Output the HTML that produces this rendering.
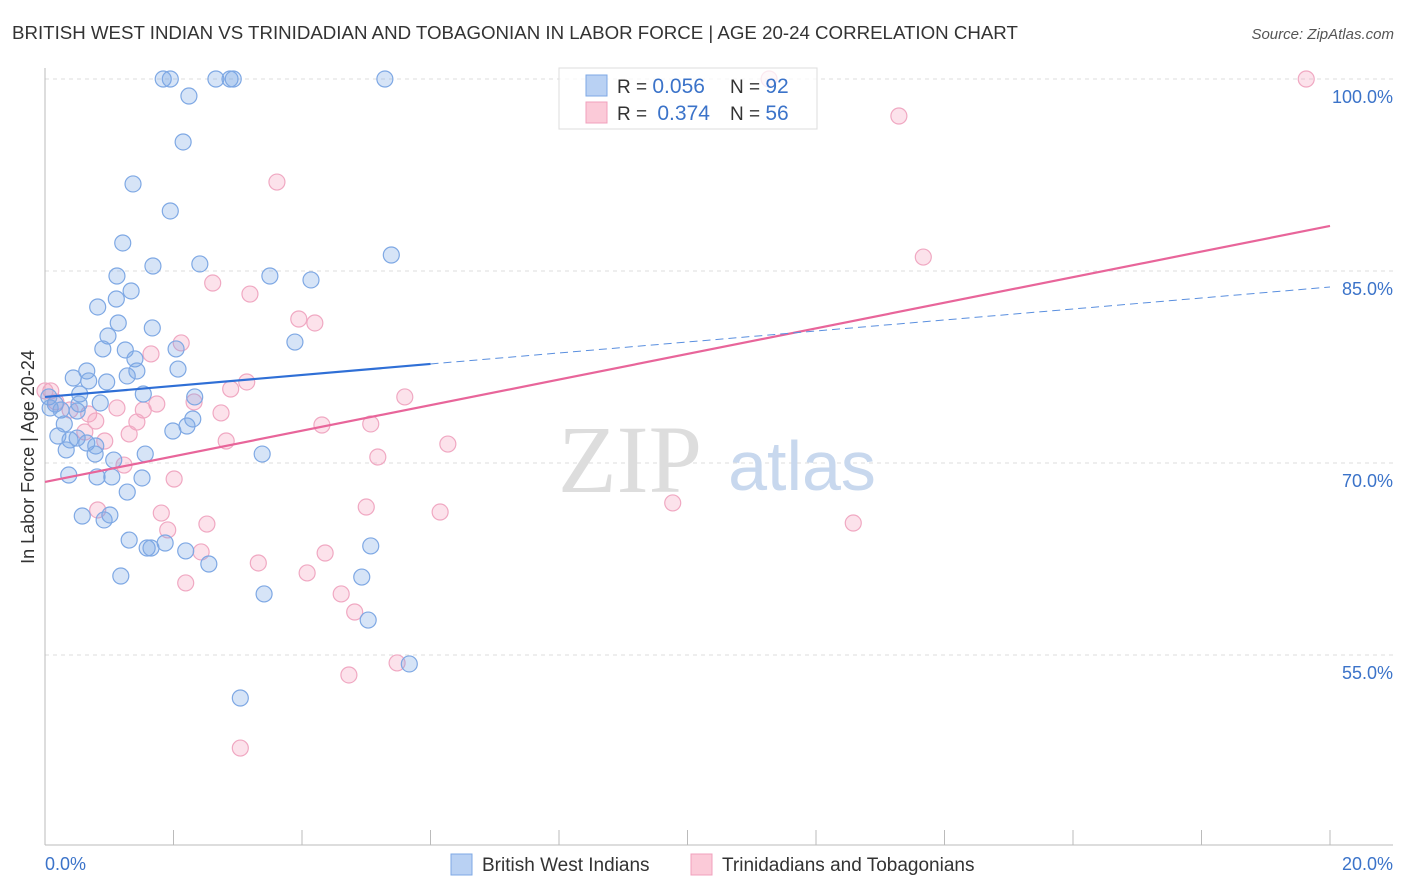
<!DOCTYPE html>
<html><head><meta charset="utf-8"><style>
body{margin:0;background:#fff;font-family:"Liberation Sans",sans-serif;}
svg{display:block}
</style></head><body>
<svg id="chart" width="1406" height="892">
<text x="12" y="39" font-size="18.7" fill="#333">BRITISH WEST INDIAN VS TRINIDADIAN AND TOBAGONIAN IN LABOR FORCE | AGE 20-24 CORRELATION CHART</text>
<text x="1394" y="39" font-size="15" fill="#555" font-style="italic" text-anchor="end">Source: ZipAtlas.com</text>
<g id="grid"></g>
<text x="630" y="492" font-size="96" fill="#ddd" font-family="Liberation Serif,serif" text-anchor="middle">ZIP</text>
<text x="802" y="490" font-size="70" fill="#c8d8ee" text-anchor="middle">atlas</text>
<g id="pts"></g>
<g id="lines"></g>
<text transform="translate(34,457) rotate(-90)" font-size="18" fill="#333" text-anchor="middle">In Labor Force | Age 20-24</text>
<text x="45" y="870" font-size="18" fill="#3b73c9">0.0%</text>
<text x="1393" y="870" font-size="18" fill="#3b73c9" text-anchor="end">20.0%</text>
<g>
<rect x="559" y="68" width="258" height="61" fill="#fff" fill-opacity="0.75" stroke="#ddd"/>
<rect x="586" y="75" width="21" height="21" fill="#b9d1f3" stroke="#7ea8e4"/>
<rect x="586" y="102" width="21" height="21" fill="#fbcad8" stroke="#f0a0bc"/>
<text x="617" y="93" font-size="19" fill="#333">R = <tspan fill="#3b73c9" font-size="21">0.056</tspan></text>
<text x="730" y="93" font-size="19" fill="#333">N = <tspan fill="#3b73c9" font-size="21">92</tspan></text>
<text x="617" y="120" font-size="19" fill="#333">R = <tspan fill="#3b73c9" font-size="21" dx="5">0.374</tspan></text>
<text x="730" y="120" font-size="19" fill="#333">N = <tspan fill="#3b73c9" font-size="21">56</tspan></text>
</g>
<g>
<rect x="451" y="854" width="21" height="21" fill="#b9d1f3" stroke="#7ea8e4"/>
<text x="482" y="871" font-size="19" fill="#333">British West Indians</text>
<rect x="691" y="854" width="21" height="21" fill="#fbcad8" stroke="#f0a0bc"/>
<text x="722" y="871" font-size="19" fill="#333">Trinidadians and Tobagonians</text>
</g>
</svg>
<script>
const yTicks=[100,85,70,55];
const yTickLabels=["100.0%","85.0%","70.0%","55.0%"];
const xTicks=[0,2,4,6,8,10,12,14,16,18,20];
const blueX=[1.84,1.95,2.66,2.88,2.93,5.29,2.24,2.15,1.37,1.95,1.21,1.68,2.41,1.12,3.50,4.14,1.34,1.11,0.82,1.14,1.67,3.89,0.98,0.90,2.04,1.25,1.40,1.43,1.28,2.07,0.44,0.65,0.68,0.96,1.53,0.54,2.33,0.86,0.06,0.16,0.08,0.53,0.25,0.30,2.30,1.99,2.21,0.20,0.39,0.50,0.65,0.79,0.33,0.78,1.07,1.56,3.38,0.37,0.81,1.04,1.51,1.28,0.58,1.01,0.92,1.31,1.87,1.59,1.65,2.19,2.55,5.07,1.18,4.93,3.41,5.03,5.67,3.04,5.39,0.50];
const blueY=[100,100,100,100,100,100,98.67,95.08,91.8,89.69,87.19,85.39,85.55,84.61,84.61,84.30,83.44,82.81,82.19,80.94,80.55,79.45,79.92,78.91,78.91,78.83,78.13,77.19,76.80,77.34,76.64,77.19,76.41,76.33,75.39,75.39,75.16,74.69,75.16,74.61,74.30,74.61,74.14,73.05,73.44,72.50,72.89,72.11,71.80,71.95,71.56,71.33,71.02,70.70,70.23,70.70,70.70,69.06,68.91,68.91,68.83,67.73,65.86,65.94,65.55,63.98,63.75,63.36,63.36,63.13,62.11,63.52,61.17,61.09,59.77,57.73,54.30,51.64,86.25,74.06];
const pinkX=[19.63,11.27,13.29,3.61,13.67,2.61,3.19,3.95,4.20,2.12,1.65,3.14,2.89,5.60,2.32,1.74,1.12,1.53,0.09,0.17,0.39,0.68,0.79,2.74,1.43,4.31,5.07,0.62,1.31,0.93,6.27,2.82,5.18,1.23,2.01,5.00,6.15,9.77,12.58,1.81,1.91,0.82,2.52,2.43,4.36,3.32,4.08,2.19,4.61,4.82,5.48,4.73,3.04,0.00];
const pinkY=[100,100,97.11,91.95,86.09,84.06,83.20,81.25,80.94,79.38,78.52,76.33,75.78,75.16,74.77,74.61,74.30,74.14,75.63,74.77,74.14,73.83,73.28,73.91,73.20,72.97,73.05,72.42,72.27,71.72,71.48,71.72,70.47,69.84,68.75,66.56,66.17,66.88,65.31,66.09,64.77,66.33,65.23,63.05,62.97,62.19,61.41,60.63,59.77,58.36,54.38,53.44,47.73,75.63];
const blueTrend=[75.16,83.75];
const pinkTrend=[68.52,88.52];
const blueSolidEnd=6.0;
const NS="http://www.w3.org/2000/svg";
const X=v=>45+v*64.25;
const Y=v=>79+(100-v)*12.8;
function mk(tag,attrs,parent){const e=document.createElementNS(NS,tag);for(const k in attrs)e.setAttribute(k,attrs[k]);parent.appendChild(e);return e;}
const grid=document.getElementById('grid');
yTicks.forEach((t,i)=>{
 const l=mk('line',{x1:45,x2:1393,y1:Y(t),y2:Y(t),stroke:'#ddd','stroke-dasharray':'4,4'},grid);
 
 
 const tx=mk('text',{x:1393,y:Y(t)+24,'font-size':18,fill:'#3b73c9','text-anchor':'end'},grid);
 tx.textContent=yTickLabels[i];
 
 
});
const ax=mk('line',{x1:45,x2:45,y1:68,y2:845,stroke:'#bbb'},grid);


const bx=mk('line',{x1:45,x2:1393,y1:845,y2:845,stroke:'#bbb'},grid);


xTicks.forEach(t=>{
 const l=mk('line',{x1:X(t),x2:X(t),y1:830,y2:845,stroke:'#bbb'},grid);
 
 
});
const pts=document.getElementById('pts');
pinkX.forEach((x,i)=>{
 const c=mk('circle',{cx:X(x),cy:Y(pinkY[i]),r:8,fill:'rgba(244,160,190,0.3)',stroke:'#f0a8c2','stroke-width':1.2},pts);
 
 
});
blueX.forEach((x,i)=>{
 const c=mk('circle',{cx:X(x),cy:Y(blueY[i]),r:8,fill:'rgba(120,165,230,0.3)',stroke:'#7ea8e4','stroke-width':1.2},pts);
 
 
});
const lines=document.getElementById('lines');
const by=x=>blueTrend[0]+(blueTrend[1]-blueTrend[0])*x/20;
const py=x=>pinkTrend[0]+(pinkTrend[1]-pinkTrend[0])*x/20;
const p=mk('line',{x1:X(0),y1:Y(py(0)),x2:X(20),y2:Y(py(20)),stroke:'#e8659a','stroke-width':2.2},lines);


const b1=mk('line',{x1:X(0),y1:Y(by(0)),x2:X(blueSolidEnd),y2:Y(by(blueSolidEnd)),stroke:'#2f6fd6','stroke-width':2.2},lines);


const b2=mk('line',{x1:X(blueSolidEnd),y1:Y(by(blueSolidEnd)),x2:X(20),y2:Y(by(20)),stroke:'#5a8fdf','stroke-width':1,'stroke-dasharray':'8,5'},lines);


</script>
</body></html>
